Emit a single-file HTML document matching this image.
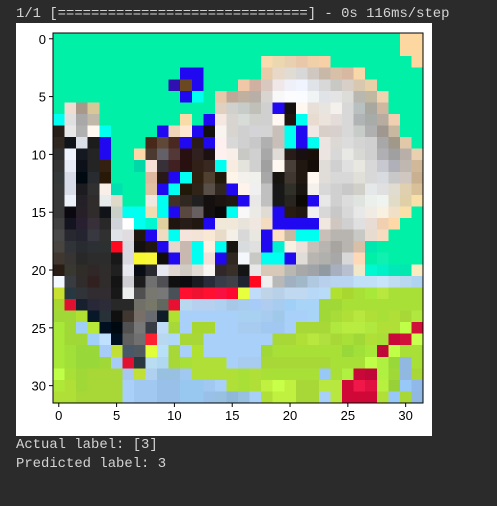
<!DOCTYPE html>
<html><head><meta charset="utf-8">
<style>
html,body{margin:0;padding:0;background:#2b2b2b;width:497px;height:506px;overflow:hidden;}
.txt{position:absolute;left:16px;font-family:"Liberation Mono",monospace;font-size:13.9px;color:#d4d4d4;white-space:pre;}
#panel{position:absolute;left:16px;top:23px;width:416px;height:413px;background:#fff;}
svg{position:absolute;left:0;top:0;}
</style></head>
<body>
<div class="txt" style="top:6px">1/1 [==============================] - 0s 116ms/step</div>
<div id="panel"></div>
<svg id="chart" width="497" height="506"></svg>
<div class="txt" style="top:437px">Actual label: [3]</div>
<div class="txt" style="top:456px">Predicted label: 3</div>
<script>
const G="00f0a8",B="2008f0",C="00fff0";
const xTicks=[0,5,10,15,20,25,30];
const yTicks=[0,5,10,15,20,25,30];
const pixelRows=[
[G,G,G,G,G,G,G,G,G,G,G,G,G,G,G,G,G,G,G,G,G,G,G,G,G,G,G,G,G,G,"fcd8a0","fcd8a0"],
[G,G,G,G,G,G,G,G,G,G,G,G,G,G,G,G,G,G,G,G,G,G,G,G,G,G,G,G,G,G,"fcd8a0","fcd8a0"],
[G,G,G,G,G,G,G,G,G,G,G,G,G,G,G,G,G,G,"f8dcb0","ecd8b0","e8d0b0","e8c8a8","f0d0a8","f8d0a8",G,G,G,G,G,G,G,"fcd8a0"],
[G,G,G,G,G,G,G,G,G,G,G,B,B,G,G,G,G,G,"e8ccaa","e8d8c8","e0dcd4","d8d8d8","d0c8c0","c8b8a8","d8c0a8","d8b8a0","f8d8a8",G,G,G,G,G],
[G,G,G,G,G,G,G,G,G,G,"3010b0","6a4820",B,G,G,G,"f0c8a8","d0b0a0","d8c8c0","f0e8e8","f0f0f8","f0f4ff","e0e4e8","d8d8d8","c8c8c4","d8d0c8","d8c8b0","e8d0a8",G,G,G,G],
[G,G,G,G,G,G,G,G,G,G,G,B,C,G,"e8c8a8","c0a898","c0b0a0","b8b0a8","d8d4d0","f8f8f8","fcfcff","fafcff","f0f4f4","e0e4e8","e4e4e4","dcdcd8","b8b8b0","c0b8a0","f0d4b0",G,G,G],
[G,"f0dcd0","a8988a","d8c898",G,G,G,G,G,G,G,G,G,G,"e0d0c0","d0d0cc","c8ccc8","c0c0b8","d0d0d0",B,"141010","fff8f0","e8e0d8","e8e4e0","f4f0ec","d8d8d8","b8c0c0","a8a8a0","d0b8a0",G,G,G],
[C,"e0e0e0","a8a8a8","c0b8a8",G,G,G,G,G,G,G,"f8dca8",G,B,"f5e8e0","d8d4d0","d8dcd8","d0d0cc","d0d0d0","fff8f0","201410",C,"e8dcd0","ece4dc","e4dcd8","d8d8d8","b0b4b4","a8aca8","b8aca0","f0d0b0",G,G],
["282018","e8e8e8","b0b0b0","fff8f0",C,G,G,G,G,B,"f0d4b8","ffe8d0",B,"141010","f8f4f0","d8d4d0","d0d0d0","d4d4d8","d4d4d4","c8c0b8",C,B,"f0e8e4","d8d0c8","d8d0cc","d8d8d8","c8ccc8","b0b0b0","a09890","c8b8a0",G,G],
["302820","101418","dce0e8","1c1c1c",B,G,G,G,"482818","604838","482820",B,"2c1c18",B,"fff0f0","d8d8d8","d0d0d0","c8c8c8","b0b0b0","c8c0b8",C,B,C,"ece4e0","dcd8d4","dcdcdc","d4d4d4","d0d0d0","a8a8a8","a09888","e0c8a8",G],
["303030","f0f4ff","141820","242424",B,G,G,"fcd8a8","4a3a30","646068","543838","281010","302020","1c1010","fff0f0","f8f0e8","c8c8c4","d0d0d0","a8a8a8","e0dcd8","281c18","181010","181008","ece4e0","d8d8d8","e8e8e4","d8d8d4","d0d0d0","b0b0b4","a0a0a0","b8b0a8","e8d0b0"],
["343434","e8ecf8","0c1018","242424","342010",G,G,"00d8a8","f8e0d8","383038","402020","281010","302018","382820",C,"f8ece0","e4e4dc","d0d0d0","a0a0a0","fff8f0","484038","201810","140c08","e0dcd8","d0d0d0","e0e0e0","e8e8e0","d8d8d8","c8c8d0","b0b0b8","c0b8b0","d0b898"],
["343838","d8dce8","000810","282c30","281808",G,G,G,"e0b8a0","281818",B,C,"302010","504030","201808","fff4e8","f4f0ec","f0f0ec","a8a8a8","181410","403830","201810","fff8f0","e0dcd8","d8d8d8","d8d8d8","e0e0d8","d8d8d8","d8dce0","c8c8c8","d0c8c0","c8b090"],
["383838","d8dce8","1c1c20","303030","f8f0e8","00e0b0",G,G,"e0c0a0",B,C,"201808","302418","585048","302820",B,"fff4ec","f0f0f0","c0c0c0","181818","303028","181410","f4f0ec","d8d8d8","d0d0d0","c8c8c8","d0d0c8","e4e8e8","e0e0e0","e0dcd0","e0d0b0","d8c098"],
["383838","ecf0f8","242028","302c2c","e8ecec","e0d8c8",G,G,"f0e8e0",C,"403028","302820","202020","141010","1c1410","201810",B,"e8e8e8","c0c0c0","181818","282420","0c0804",B,"e8e8e8","d0d0d0","dcdcdc","e0e4e0","ecf0ec","f0f4f0","e0dcc8","e0d0a8","f8e0a8"],
["383838","0c0810","282028","302c2c","101418","c8d0c8",C,C,"f0dcb0",C,B,"584840","686060","141010","080808",C,"f8f8f8","eceae4","e0dcd4",B,"281c10","201810","f0f0f0","d8d8d8","c8c8c8","d8d8d8","e8e8e8","f0ece4","f8f0e0","f0e0c8","f8e0a8",G],
["404040","141420","282030","383038","282828","d0d4d8","ffffff",C,"00f8d0","e0d0a0","201410","281c18","201810",B,"f0e8d8","f0e8d8","e8e4dc","f0e8e0","f4dcc0",B,B,B,B,"f0e8e0","d0c8c0","d0d0d0","e0e0e0","e8dcd4","f0d0b0","ffd8a8",G,G],
["484848","282830","242430","383840","303030","e0e4e8","e0dce0","201810",B,"f0dcc0",C,"f4e4dc","f4e4d8","f8e8d4","e8dcc8","f4f0e8","d8d8d8","e8e8e0",B,"fce0c0","c8b8a0",C,C,"c8c0b8","b8b4b0","b8b4b0","c8c8c4","e8dcd0","f8dcc0",G,G,G],
["484440","303438","282c30","2c3034","2c3030","ff0820","d8d8e0","141010","201810",B,"e8d8cc","c8b8b0",C,"fff0e0",C,"181410","d8dcdc","e0e0e0",B,"00f0d0","f8f0e0","ece0d8","c8c0b8","b8b4b0","a8a4a0","b8b4b0","d8c0a8","00e8b0",G,G,G,G],
["403830","383434","282828","2c2c2c","2c2c2c","181818","d8d8e0","f8f830","f8f838","100c08",B,"c8b8b0",C,"f0e0d8",B,"302820","f4f8fc","c8c8c4",C,C,B,"e0dcd8","b8b4b0","b0b0ac","a8a8a8","d8d8d8","ffd8b8",G,"10f0b0",G,G,G],
["281c14","383830","302c28","302828","302c2c","202020","e8e8f0","080c14","282830","e8e8f0","e0d8d0","d0ccc4","e0dcd4","f8f4f0","302828","383028","141414","e8e8e8","d8c8b8","d8c8b8","b8b8b0","a8a8a8","a0a4a8","909aa0","a8b0c0","b8c0d0","f0e8c8","00f8d0","00f0c8","00e8b8","00e8b0","f8ecc0"],
["f4f8ff","383c40","302c2c","302020","302c2c","141414","d0d0d4","1c1c1c","707070","505054","101010","0c0c10","181c20","282c38","383c48","404048","202430","ff0820","f0f0f0","b8b8b8","a0b0c0","a0b8c8","b0c8e0","b8d0ec","b8d4f0","b8d4f0","c0e0f8","c0e0f8","c8e4f8","c0dcf0","b8d8f0","b0d4f0"],
["c8e030","283840","303438","302c30","302c30","181818","eef0f0","505050","787870","787878","485058","ff1030","f01030","ff1030","f81040","ff0830","e8ff40","c0dcf8","c0d4e8","b8d0e8","c0d8f0","c0d8f0","b8d8f8","b8dcf8","b0e030","a8d830","a8e038","a8e838","b8e840","a8e038","a8e038","a8e038"],
["a8d830","e01030","182030","282838","2c2c38","282828","282828","707068","787868","606860","e81030","b8d8f0","b8d0f0","b8d0f0","b0d0f0","a8c8e8","a8ccf0","a8ccf8","b0ccf0","a8ccf0","a0d0f8","a8d4f8","a8d4f8","a0d838","a0d838","a8e038","a8e038","a8e038","a8e038","a8e038","a8e038","a8e038"],
["a0d838","a0d838","b0e030","081828","283038","101010","403830","787068","686c70","101c28","b0e030","a8d0f8","a8d0f8","a8d0f8","a8d0f8","a8d0f8","a8d0f0","a8d0f0","a8ccf0","a0c8e8","a8d0f8","a8d0f8","a8d4f8","a0d838","a8dc38","b0e038","b8e840","b0e038","a8e038","b0e038","a8d838","b0e840"],
["a8e838","a0d838","a0d0f8","b8e838","001020","000810","505050","787878","383c44","c0dcf8","a8d838","a8d0f8","a8d830","a8d830","a8d0f8","a8d0f8","a8ccf0","a8ccf0","a0c8f0","a0c8f0","a8d0f8","a8d838","a8d838","a8d838","b0e840","b8ec40","b8ec40","b0e840","b0e038","b0e038","c0ff48","d01038"],
["a8e838","a0d838","a0d838","a0d0f8","c0e0ff","001020","606060","707070","ff2030","b8d8f0","b0d8f8","a8d838","a8d838","a8d0f8","a8d0f8","a8d0f8","a8d0f8","a8d0f8","a8d0f8","a8d838","a8d838","b0e038","b8e840","b0e040","a8d838","a8e038","a0d838","b0e038","a8e038","c80838","d01038","c8ff50"],
["a8e838","a0e038","98d838","98d838","a8ccf8","c0e038","485868","505860","e0ff38","b8e0f8","a8d838","a8d0f8","b0e030","a8d0f8","a8d0f8","a8d0f8","a8d0f8","a8d0f8","a0d838","a8e038","a8e038","a8e038","a8e038","a8e038","a8e038","98d838","a0e038","a8e838","c00838","c0ff48","a8e038","a8e038"],
["a8e838","a0e038","98d838","98d838","a0d838","a8ccf8","e01030","283840","b8dcf0","b0d8f0","a8d838","a8e038","b0e038","b0e038","b0e038","a8d0f8","a8ccf0","a8ccf0","a8d838","a8d838","a8d838","a8d838","a8d838","a8d838","a8e038","a8e038","a8e038","c0ff48","b0f040","98d838","90b8e0","a8e038"],
["c0ff48","a8e038","a0d838","a8d838","a8d838","a8d838","a8c8f0","c0e038","b0d0f0","98c0e0","98c0e0","a0c8f0","b0e038","b0e038","b0e038","b0e038","a8e038","b0e038","a8e038","a8e038","a8e038","a8e038","a8e038","98c8f8","a8e038","b0f040","c80838","c00838","b0f040","a0d838","90b8e0","a8d838"],
["b0e838","b0e038","a0d838","a8d838","a8d838","a8d838","a8d0f8","a0c8f0","a0c8f0","98c0e8","98c0e8","98c8f0","98c8f0","a0c8f0","a8d0f8","b0e038","a8e038","b0e038","c0f040","c8ff48","c0f040","a8d838","a8d838","b8e840","b8e840","d00838","f01848","e01040","b8f040","98d038","98c8f8","90b8e8"],
["b0e038","b0e038","a8d838","a8d838","a8d838","a8d838","a8d0f8","a0c8f0","a0c8f0","98c0e8","98c0e8","98c8f0","98c8f0","98c0e8","98c0e0","90b8d8","98c0e0","a8d0f8","b0e038","c0f040","c0f040","a8d838","a8d838","a8d0f8","b8e840","d00838","d00838","d00838","b0e038","98c8f8","a8d838","90b8e0"]
];
const NS="http://www.w3.org/2000/svg";
const svg=document.getElementById('chart');
const X0=53,Y0=33,W=370,H=370,N=32;
const cell=W/N;
function xScale(v){return X0+(v+0.5)*cell;}
function yScale(v){return Y0+(v+0.5)*cell;}
function mk(tag,attrs){const e=document.createElementNS(NS,tag);for(const k in attrs)e.setAttribute(k,attrs[k]);return e;}
const g=mk('g',{'shape-rendering':'crispEdges'});


svg.appendChild(g);
pixelRows.forEach((row,r)=>{row.forEach((c,ci)=>{
  const x=xScale(ci)-cell/2,y=yScale(r)-cell/2;
  const rc=mk('rect',{x:x,y:y,width:cell+0.6,height:cell+0.6,fill:'#'+c});
  
  
  g.appendChild(rc);
});});
const frame=mk('rect',{x:X0,y:Y0,width:W,height:H,fill:'none',stroke:'#000','stroke-width':1});


svg.appendChild(frame);
xTicks.forEach(t=>{
  const x=xScale(t);
  const ln=mk('line',{x1:x,x2:x,y1:Y0+H,y2:Y0+H+4,stroke:'#000'});
  
  
  svg.appendChild(ln);
  const tx=mk('text',{x:x,y:Y0+H+17,'text-anchor':'middle','font-family':'Liberation Sans, sans-serif','font-size':'13',fill:'#000'});
  tx.textContent=t;
  
  
  svg.appendChild(tx);
});
yTicks.forEach(t=>{
  const y=yScale(t);
  const ln=mk('line',{x1:X0-4,x2:X0,y1:y,y2:y,stroke:'#000'});
  
  
  svg.appendChild(ln);
  const tx=mk('text',{x:X0-7,y:y+5,'text-anchor':'end','font-family':'Liberation Sans, sans-serif','font-size':'13',fill:'#000'});
  tx.textContent=t;
  
  
  svg.appendChild(tx);
});
</script>
</body></html>
